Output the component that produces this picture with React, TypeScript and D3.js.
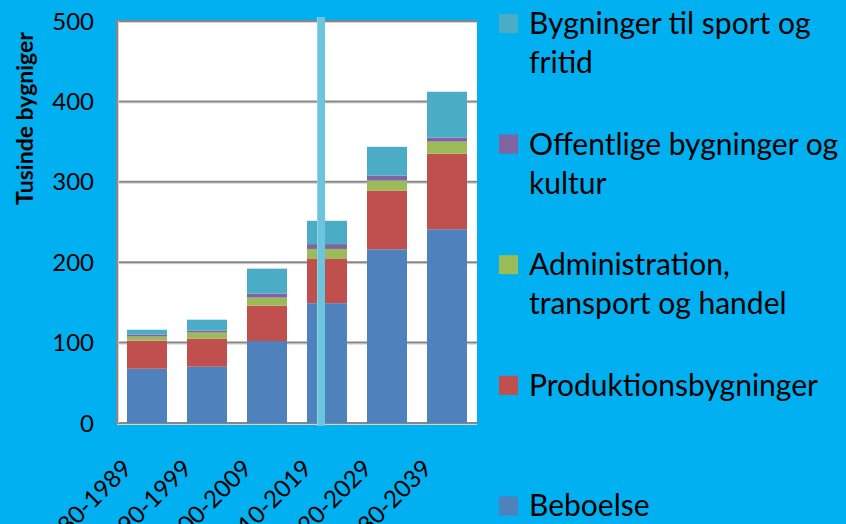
import React from "react";
import * as d3 from "d3";

const categories = ["1980-1989", "1990-1999", "2000-2009", "2010-2019", "2020-2029", "2030-2039"];
const beboelse = [67.5, 70, 102, 149, 216, 241];
const produktion = [35, 35, 44, 55, 73, 94];
const administration = [5, 7.5, 10, 12.5, 12.5, 15];
const offentlige = [2.5, 2.5, 5, 6, 6, 5];
const sport = [6, 13.5, 31, 29, 36, 57];
const yTicks = [0, 100, 200, 300, 400, 500];
const markerYear = 2014;

const seriesKeys = ["beboelse", "produktion", "administration", "offentlige", "sport"];
const seriesColors: Record<string, string> = {
  beboelse: "#4F81BD",
  produktion: "#C0504D",
  administration: "#9BBB59",
  offentlige: "#8064A2",
  sport: "#4BACC6",
};
// legend reads top to bottom, reverse of the stack
const legendItems = [
  { key: "sport", lines: ["Bygninger til sport og", "fritid"] },
  { key: "offentlige", lines: ["Offentlige bygninger og", "kultur"] },
  { key: "administration", lines: ["Administration,", "transport og handel"] },
  { key: "produktion", lines: ["Produktionsbygninger"] },
  { key: "beboelse", lines: ["Beboelse"] },
];

const W = 846;
const H = 524;
const plot = { left: 117, right: 477, top: 21, bottom: 423 };
const font = "Lato, 'Open Sans', sans-serif";

export default function App() {
  const rows = categories.map((c, i) => ({
    category: c,
    beboelse: beboelse[i],
    produktion: produktion[i],
    administration: administration[i],
    offentlige: offentlige[i],
    sport: sport[i],
  }));
  const stacked = d3.stack<any>().keys(seriesKeys)(rows);

  const x = d3
    .scaleBand()
    .domain(categories)
    .range([plot.left, plot.right])
    .paddingInner(1 / 3)
    .paddingOuter(1 / 6);
  const y = d3.scaleLinear().domain([0, 500]).range([plot.bottom, plot.top]);
  const years = d3.scaleLinear().domain([1980, 2040]).range([plot.left, plot.right]);
  const mx = years(markerYear);

  return (
    <svg width={W} height={H} style={{ position: "fixed", left: 0, top: 0 }} fontFamily={font}>
      <rect width={W} height={H} fill="#00B0F0" />
      <rect x={plot.left} y={plot.top} width={plot.right - plot.left} height={plot.bottom - plot.top} fill="#fff" />

      {yTicks.map((t) => (
        <g key={t}>
          <line x1={plot.left} x2={plot.right} y1={y(t) + 1.5} y2={y(t) + 1.5} stroke="#d4d4d4" strokeWidth={1} />
          <line x1={plot.left} x2={plot.right} y1={y(t)} y2={y(t)} stroke="#878787" strokeWidth={2} />
          <text x={94} y={y(t)} dy="0.36em" textAnchor="end" fontSize={24} fill="#000">
            {t}
          </text>
        </g>
      ))}
      <line x1={plot.left} x2={plot.left} y1={plot.top} y2={plot.bottom + 1} stroke="#878787" strokeWidth={2} />
      <line x1={plot.left + 1.5} x2={plot.left + 1.5} y1={plot.top} y2={plot.bottom} stroke="#d4d4d4" strokeWidth={1} />

      {stacked.map((s) => (
        <g key={s.key} fill={seriesColors[s.key]}>
          {s.map((d, i) => (
            <rect
              key={i}
              x={x(categories[i])}
              y={y(d[1])}
              width={x.bandwidth()}
              height={y(d[0]) - y(d[1])}
            />
          ))}
        </g>
      ))}

      <rect x={mx - 4} y={17} width={8} height={plot.bottom + 3 - 17} fill="#6CC5DE" />
      <line x1={mx - 3.5} x2={mx - 3.5} y1={17} y2={plot.bottom + 3} stroke="#8fd3e6" strokeWidth={1} />

      {categories.map((c) => (
        <text
          key={c}
          transform={`translate(${x(c)! + x.bandwidth() / 2 - 14},470) rotate(-45)`}
          textAnchor="end"
          fontSize={24}
          fill="#000"
        >
          {c}
        </text>
      ))}

      <text
        transform={`translate(33,${(27 + 210) / 2}) rotate(-90)`}
        textAnchor="middle"
        fontSize={23}
        fontWeight="bold"
        fill="#000"
      >
        Tusinde bygniger
      </text>

      {legendItems.map((item, i) => {
        const top = 14 + i * 120.6;
        return (
          <g key={item.key}>
            <rect x={499} y={top} width={19} height={19} fill={seriesColors[item.key]} />
            {item.lines.map((ln, j) => (
              <text key={j} x={529} y={top + 20 + j * 39} fontSize={30} fill="#000">
                {ln}
              </text>
            ))}
          </g>
        );
      })}
    </svg>
  );
}
